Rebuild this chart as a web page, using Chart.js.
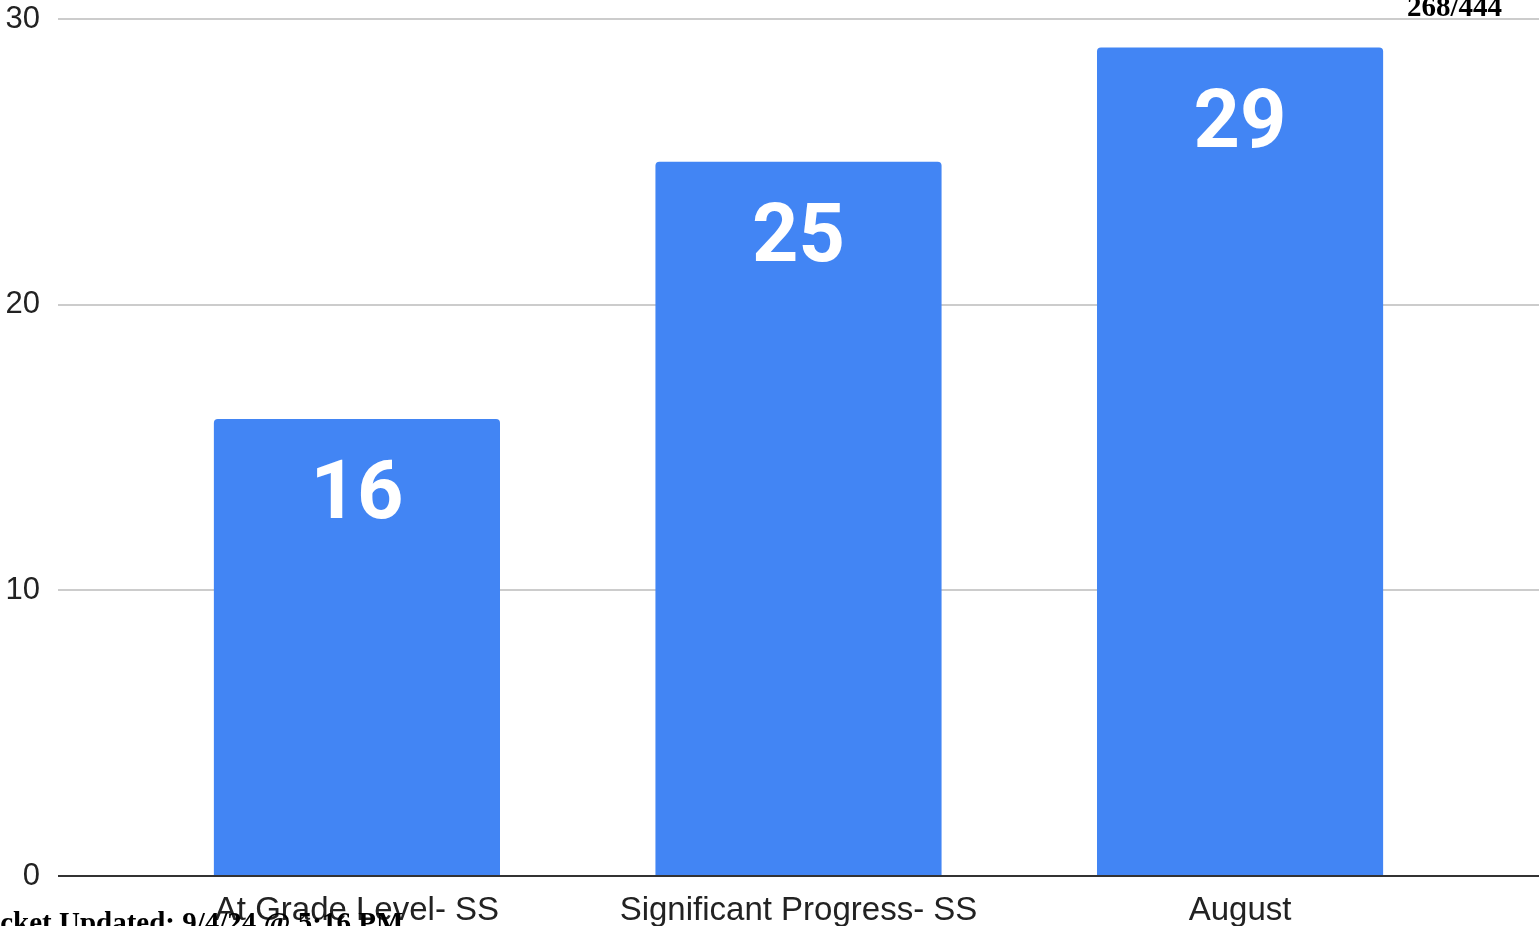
<!DOCTYPE html>
<html>
<head>
<meta charset="utf-8">
<script src="https://cdn.jsdelivr.net/npm/chart.js@4"></script>
<style>
  html, body { margin: 0; padding: 0; background: #fff; overflow: hidden; }
  #wrap { position: relative; width: 1539px; height: 926px; }
  .stamp {
    position: absolute; font-family: "Liberation Serif", "Times New Roman", serif;
    font-weight: bold; font-size: 29px; line-height: 29px; color: #000; white-space: nowrap;
  }
</style>
</head>
<body>
<div id="wrap">
  <canvas id="chart"></canvas>
  <div class="stamp" style="right:37px; top:-8px;">268/444</div>
  <div class="stamp" style="left:-32px; top:908px;">Packet Updated: 9/4/24 @ 5:16 PM</div>
</div>
<script>
// chart values
const categories = ['At Grade Level- SS', 'Significant Progress- SS', 'August'];
const counts = [16, 25, 29];
const yTicks = [0, 10, 20, 30];

const BLUE = '#4285f4';

// big white value labels inside each bar
const barValueLabels = {
    id: 'barValueLabels',
    afterDatasetsDraw(chart) {
        const { ctx } = chart;
        const meta = chart.getDatasetMeta(0);
        ctx.save();
        ctx.fillStyle = '#ffffff';
        ctx.font = 'bold 81px Roboto, "Liberation Sans", Arial, sans-serif';
        ctx.textAlign = 'center';
        ctx.textBaseline = 'middle';
        meta.data.forEach((bar, i) => {
            ctx.fillText(String(counts[i]), bar.x, bar.y + 79);
        });
        ctx.restore();
    }
};

new Chart(document.getElementById('chart'), {
    type: 'bar',
    data: {
        datasets: [{
            label: 'Count',
            data: counts.map((v, i) => ({ x: i, y: v })),
            backgroundColor: BLUE,
            borderRadius: 4,
            barPercentage: 0.648,
            categoryPercentage: 1
        }]
    },
    options: {
        animation: false,
        responsive: true,
        maintainAspectRatio: false,
        layout: { padding: 0 },
        scales: {
            x: {
                type: 'linear',
                min: -0.677,
                max: 2.677,
                offset: false,
                afterBuildTicks: (scale) => {
                    scale.ticks = categories.map((_, i) => ({ value: i }));
                },
                afterFit: (scale) => { scale.height = 50; },
                grid: { display: false, drawTicks: false },
                border: { display: false },
                ticks: {
                    color: '#222',
                    padding: 15,
                    maxRotation: 0,
                    autoSkip: false,
                    font: { family: '"Liberation Sans", Arial, sans-serif', size: 33 },
                    callback: (v) => categories[v] ?? ''
                }
            },
            y: {
                min: 0,
                max: 30,
                afterBuildTicks: (scale) => {
                    scale.ticks = yTicks.map(v => ({ value: v }));
                },
                afterFit: (scale) => {
                    scale.width = 58;
                    scale.paddingTop = 19;
                    scale.paddingBottom = 0;
                },
                grid: {
                    drawTicks: false,
                    lineWidth: 2,
                    color: (c) => c.tick && c.tick.value === 0 ? '#333333' : '#cccccc'
                },
                border: { display: false },
                ticks: {
                    color: '#222',
                    padding: 18,
                    font: { family: '"Liberation Sans", Arial, sans-serif', size: 31 }
                }
            }
        },
        plugins: {
            legend: { display: false },
            tooltip: { enabled: false }
        }
    },
    plugins: [barValueLabels]
});
</script>
</body>
</html>
